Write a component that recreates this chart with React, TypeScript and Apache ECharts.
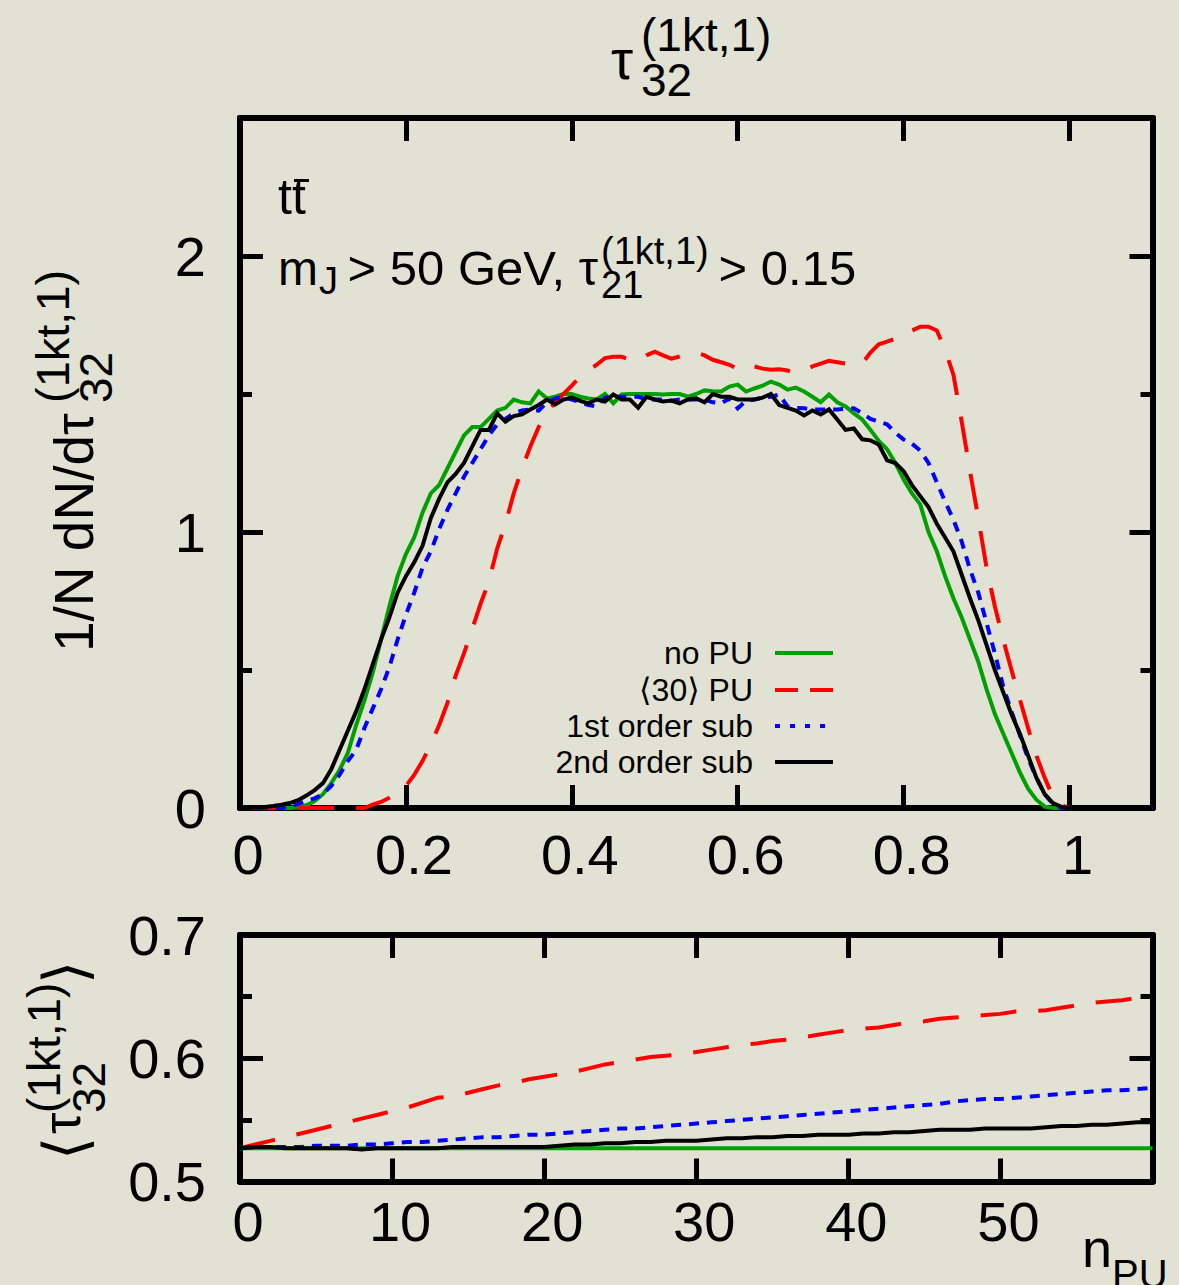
import React, { useEffect, useRef } from "react";
import * as echarts from "echarts";

// ---------- data: top panel (1/N dN/dtau32) ----------
const tauValues = [
  0, 0.01, 0.02, 0.03, 0.04, 0.05, 0.06, 0.07, 0.08, 0.09,
  0.1, 0.11, 0.12, 0.13, 0.14, 0.15, 0.16, 0.17, 0.18, 0.19,
  0.2, 0.21, 0.22, 0.23, 0.24, 0.25, 0.26, 0.27, 0.28, 0.29,
  0.3, 0.31, 0.32, 0.33, 0.34, 0.35, 0.36, 0.37, 0.38, 0.39,
  0.4, 0.41, 0.42, 0.43, 0.44, 0.45, 0.46, 0.47, 0.48, 0.49,
  0.5, 0.51, 0.52, 0.53, 0.54, 0.55, 0.56, 0.57, 0.58, 0.59,
  0.6, 0.61, 0.62, 0.63, 0.64, 0.65, 0.66, 0.67, 0.68, 0.69,
  0.7, 0.71, 0.72, 0.73, 0.74, 0.75, 0.76, 0.77, 0.78, 0.79,
  0.8, 0.81, 0.82, 0.83, 0.84, 0.85, 0.86, 0.87, 0.88, 0.89,
  0.9, 0.91, 0.92, 0.93, 0.94, 0.95, 0.96, 0.97, 0.98, 0.99,
  1.0, 1.01, 1.02, 1.03, 1.04, 1.05, 1.06, 1.07, 1.08, 1.09,
  1.1,
];

const noPU = [
  0, 0, 0, 0, 0, 0, 0, 0.003, 0.01, 0.025,
  0.05, 0.09, 0.137, 0.2, 0.3, 0.39, 0.49, 0.61, 0.73, 0.84,
  0.92, 0.98, 1.07, 1.14, 1.17, 1.23, 1.29, 1.35, 1.38, 1.38,
  1.41, 1.44, 1.45, 1.48, 1.47, 1.466, 1.509, 1.484, 1.49, 1.5,
  1.5, 1.49, 1.484, 1.48, 1.5, 1.466, 1.498, 1.5, 1.5, 1.5,
  1.5, 1.498, 1.5, 1.5, 1.49, 1.5, 1.513, 1.51, 1.509, 1.527,
  1.534, 1.509, 1.52, 1.53, 1.545, 1.534, 1.516, 1.523, 1.509, 1.49,
  1.47, 1.498, 1.47, 1.455, 1.43, 1.408, 1.37, 1.33, 1.3, 1.25,
  1.19, 1.14, 1.1, 1.0, 0.93, 0.84, 0.76, 0.69, 0.61, 0.53,
  0.43, 0.34, 0.27, 0.2, 0.13, 0.07, 0.03, 0.005, 0, 0,
  0, 0, 0, 0, 0, 0, 0, 0, 0, 0,
  0,
];

const pu30 = [
  0, 0, 0, 0, 0, 0, 0, 0, 0, 0,
  0, 0, 0, 0, 0, 0, 0.012, 0.022, 0.037, 0.055,
  0.08, 0.12, 0.17, 0.23, 0.3, 0.38, 0.48, 0.56, 0.65, 0.74,
  0.82, 0.94, 1.03, 1.14, 1.23, 1.31, 1.38, 1.43, 1.47, 1.5,
  1.53, 1.563, 1.585, 1.606, 1.63, 1.635, 1.635, 1.625, 1.62, 1.64,
  1.653, 1.64, 1.628, 1.636, 1.645, 1.65, 1.64, 1.624, 1.615, 1.606,
  1.59, 1.606, 1.6, 1.592, 1.588, 1.59, 1.585, 1.575, 1.585, 1.6,
  1.61, 1.62, 1.615, 1.61, 1.606, 1.61, 1.65, 1.68, 1.69, 1.7,
  1.726, 1.73, 1.744, 1.744, 1.73, 1.66, 1.57, 1.4, 1.22, 1.05,
  0.87, 0.73, 0.61, 0.5, 0.395, 0.29, 0.19, 0.11, 0.04, 0.01,
  0, 0, 0, 0, 0, 0, 0, 0, 0, 0,
  0,
];

const sub1 = [
  0, 0, 0, 0, 0, 0, 0.005, 0.015, 0.025, 0.035,
  0.05, 0.08, 0.12, 0.17, 0.21, 0.29, 0.36, 0.43, 0.51, 0.61,
  0.7, 0.78, 0.87, 0.93, 1.01, 1.08, 1.14, 1.2, 1.25, 1.3,
  1.35, 1.39, 1.41, 1.43, 1.44, 1.444, 1.44, 1.47, 1.484, 1.49,
  1.48, 1.47, 1.46, 1.455, 1.487, 1.49, 1.49, 1.49, 1.49, 1.48,
  1.48, 1.48, 1.476, 1.48, 1.48, 1.48, 1.48, 1.47, 1.466, 1.484,
  1.448, 1.476, 1.48, 1.487, 1.49, 1.498, 1.455, 1.45, 1.448, 1.444,
  1.444, 1.444, 1.444, 1.446, 1.448, 1.43, 1.41, 1.4, 1.39, 1.36,
  1.335, 1.32, 1.295, 1.25, 1.18, 1.11, 1.045, 0.965, 0.865, 0.78,
  0.67, 0.56, 0.44, 0.35, 0.265, 0.18, 0.11, 0.05, 0.015, 0,
  0, 0, 0, 0, 0, 0, 0, 0, 0, 0,
  0,
];

const sub2 = [
  0, 0, 0.002, 0.004, 0.007, 0.012, 0.018, 0.028, 0.045, 0.065,
  0.09, 0.14, 0.21, 0.28, 0.35, 0.43, 0.52, 0.61, 0.69, 0.78,
  0.84, 0.89, 0.95, 1.05, 1.12, 1.18, 1.21, 1.25, 1.31, 1.37,
  1.37, 1.43, 1.4, 1.42, 1.426, 1.444, 1.46, 1.48, 1.462, 1.48,
  1.487, 1.475, 1.466, 1.48, 1.473, 1.498, 1.48, 1.48, 1.45, 1.49,
  1.48, 1.473, 1.476, 1.466, 1.48, 1.484, 1.47, 1.5, 1.49, 1.49,
  1.48, 1.48, 1.48, 1.487, 1.5, 1.46, 1.45, 1.44, 1.422, 1.44,
  1.426, 1.444, 1.408, 1.37, 1.375, 1.336, 1.332, 1.317, 1.26, 1.25,
  1.22, 1.17, 1.13, 1.09, 1.03, 0.98, 0.93, 0.845, 0.76, 0.68,
  0.59, 0.5, 0.42, 0.34, 0.27, 0.19, 0.11, 0.05, 0.018, 0.004,
  0, 0, 0, 0, 0, 0, 0, 0, 0, 0,
  0,
];

// ---------- data: bottom panel (<tau32> vs n_PU) ----------
const nPU = [
  0, 1, 2, 3, 4, 5, 6, 7, 8, 9, 10, 11, 12, 13, 14, 15, 16, 17, 18, 19, 20,
  21, 22, 23, 24, 25, 26, 27, 28, 29, 30, 31, 32, 33, 34, 35, 36, 37, 38, 39, 40,
  41, 42, 43, 44, 45, 46, 47, 48, 49, 50, 51, 52, 53, 54, 55, 56, 57, 58, 59, 60,
];

const meanNoPU = [
  0.527, 0.527, 0.527, 0.527, 0.527, 0.527, 0.527, 0.527, 0.527, 0.527, 0.527,
  0.527, 0.527, 0.527, 0.527, 0.527, 0.527, 0.527, 0.527, 0.527, 0.527,
  0.527, 0.527, 0.527, 0.527, 0.527, 0.527, 0.527, 0.527, 0.527, 0.527,
  0.527, 0.527, 0.527, 0.527, 0.527, 0.527, 0.527, 0.527, 0.527, 0.527,
  0.527, 0.527, 0.527, 0.527, 0.527, 0.527, 0.527, 0.527, 0.527, 0.527,
  0.527, 0.527, 0.527, 0.527, 0.527, 0.527, 0.527, 0.527, 0.527, 0.527,
];

const meanPU = [
  0.527, 0.53, 0.533, 0.536, 0.539, 0.542, 0.545, 0.548, 0.551, 0.554, 0.557,
  0.56, 0.564, 0.568, 0.569, 0.572, 0.575, 0.578, 0.58, 0.583, 0.585,
  0.587, 0.589, 0.592, 0.595, 0.597, 0.599, 0.601, 0.602, 0.603, 0.605,
  0.607, 0.609, 0.611, 0.612, 0.614, 0.615, 0.617, 0.619, 0.621, 0.623,
  0.624, 0.625, 0.627, 0.629, 0.63, 0.632, 0.633, 0.634, 0.635, 0.636,
  0.638, 0.638, 0.639, 0.641, 0.643, 0.645, 0.646, 0.647, 0.649, 0.65,
];

const meanSub1 = [
  0.527, 0.528, 0.528, 0.528, 0.528, 0.529, 0.529, 0.529, 0.53, 0.53, 0.531,
  0.532, 0.532, 0.533, 0.534, 0.535, 0.536, 0.536, 0.537, 0.538, 0.538,
  0.539, 0.54, 0.541, 0.542, 0.543, 0.543, 0.544, 0.545, 0.546, 0.547,
  0.548, 0.549, 0.55, 0.551, 0.552, 0.553, 0.554, 0.555, 0.556, 0.557,
  0.558, 0.559, 0.56, 0.561, 0.562, 0.563, 0.565, 0.566, 0.567, 0.567,
  0.568, 0.569, 0.57, 0.571, 0.572, 0.573, 0.574, 0.574, 0.575, 0.576,
];

const meanSub2 = [
  0.527, 0.528, 0.528, 0.527, 0.527, 0.527, 0.527, 0.527, 0.526, 0.527, 0.527,
  0.527, 0.527, 0.527, 0.528, 0.528, 0.528, 0.528, 0.528, 0.528, 0.528,
  0.529, 0.53, 0.53, 0.531, 0.531, 0.532, 0.532, 0.533, 0.533, 0.533,
  0.534, 0.535, 0.535, 0.536, 0.536, 0.537, 0.537, 0.538, 0.538, 0.538,
  0.539, 0.539, 0.54, 0.54, 0.541, 0.542, 0.542, 0.542, 0.543, 0.543,
  0.543, 0.543, 0.544, 0.545, 0.545, 0.546, 0.546, 0.547, 0.548, 0.548,
];

const legendLabels = ["no PU", "\u27E830\u27E9 PU", "1st order sub", "2nd order sub"];

// ---------- styling ----------
const BG = "#e2e2d4";
const FONT = '"Liberation Sans", Arial, Helvetica, sans-serif';
const FONT_SYM = '"Liberation Sans", "DejaVu Sans", sans-serif';
const GREEN = "#00a000";
const RED = "#ff0000";
const BLUE = "#0000ff";
const BLACK = "#000000";
const LW = 4;
const RED_DASH = [36, 22];
const BLUE_DASH = [10, 8];

function pairs(xs: number[], ys: number[]) {
  return xs.map((x, i) => [x, ys[i]]);
}

function mkX(gridIndex: number, pos: "bottom" | "top", min: number, max: number, interval: number, labels: boolean, margin: number) {
  return {
    type: "value",
    gridIndex,
    position: pos,
    min,
    max,
    interval,
    axisLine: { show: true, onZero: false, lineStyle: { color: BLACK, width: 6 } },
    axisTick: { show: true, inside: true, length: 23, lineStyle: { color: BLACK, width: 5 } },
    axisLabel: {
      show: labels,
      color: BLACK,
      fontSize: 56,
      fontFamily: FONT,
      margin,
      padding: [0, 0, 0, 16],
      showMaxLabel: false,
      showMinLabel: true,
    },
    splitLine: { show: false },
  };
}

function mkY(gridIndex: number, pos: "left" | "right", min: number, max: number, interval: number, tickLen: number, labels: boolean, showMax: boolean) {
  return {
    type: "value",
    gridIndex,
    position: pos,
    min,
    max,
    interval,
    axisLine: { show: true, onZero: false, lineStyle: { color: BLACK, width: 6 } },
    axisTick: { show: true, inside: true, length: tickLen, lineStyle: { color: BLACK, width: 5 } },
    axisLabel: {
      show: labels,
      color: BLACK,
      fontSize: 56,
      fontFamily: FONT,
      margin: 34,
      showMaxLabel: showMax,
    },
    splitLine: { show: false },
  };
}

function txt(text: string, x: number, y: number, fontSize: number, extra: any = {}) {
  return {
    type: "text",
    x,
    y,
    silent: true,
    rotation: extra.rotation || 0,
    style: {
      text,
      fontSize,
      fontFamily: extra.fontFamily || FONT,
      fill: BLACK,
      align: extra.align || "left",
      verticalAlign: "middle",
    },
  };
}

export default function App() {
  const ref = useRef<HTMLDivElement>(null);

  useEffect(() => {
    if (!ref.current) return;
    const chart = echarts.init(ref.current, undefined, { renderer: "svg" });

    const R = Math.PI / 2;
    const legendY = [653, 690, 726, 762];
    const legendStyles = [
      { stroke: GREEN, lineWidth: LW },
      { stroke: RED, lineWidth: LW, lineDash: [23, 12] },
      { stroke: BLUE, lineWidth: LW, lineDash: [5, 10] },
      { stroke: BLACK, lineWidth: LW },
    ];

    const graphic: any[] = [
      // title tau_32^(1kt,1)
      txt("\u03C4", 611, 59, 56),
      txt("32", 641, 80, 46),
      txt("(1kt,1)", 641, 35, 46),
      // t tbar
      txt("t", 278, 197, 50),
      txt("t", 292, 197, 50),
      // cut text
      txt("m", 278, 268, 48),
      txt("J", 319, 281, 38),
      txt(" > 50 GeV, \u03C4", 334, 268, 49),
      txt("21", 601, 285, 38),
      txt("(1kt,1)", 601, 251, 38),
      txt(" > 0.15", 705, 268, 49),
      // y axis title, top panel
      txt("1/N dN/d\u03C4", 74, 652, 55, { rotation: R }),
      txt("32", 96, 403, 46, { rotation: R }),
      txt("(1kt,1)", 52, 403, 47, { rotation: R }),
      // y axis title, bottom panel
      txt("\u27E8", 65, 1160, 60, { rotation: R, fontFamily: FONT_SYM }),
      txt("\u03C4", 61, 1134, 54, { rotation: R }),
      txt("32", 89, 1113, 46, { rotation: R }),
      txt("(1kt,1)", 44, 1113, 46, { rotation: R }),
      txt("\u27E9", 65, 984, 60, { rotation: R, fontFamily: FONT_SYM }),
      // n_PU
      txt("n", 1082, 1248, 54),
      txt("PU", 1112, 1274, 40),
    ];
    // overline of tbar
    graphic.push({
      type: "rect",
      silent: true,
      shape: { x: 294, y: 179, width: 15, height: 3 },
      style: { fill: BLACK },
    });
    legendLabels.forEach((lab, i) => {
      graphic.push(txt(lab, 753, legendY[i], 32, { align: "right", fontFamily: FONT_SYM }));
      graphic.push({
        type: "line",
        silent: true,
        shape: { x1: 775, y1: legendY[i], x2: 833, y2: legendY[i] },
        style: legendStyles[i],
      });
    });

    const lineSeries = (name: string, data: any[], color: string, dash: any, xi: number, yi: number, z: number) => ({
      name,
      type: "line",
      xAxisIndex: xi,
      yAxisIndex: yi,
      data,
      showSymbol: false,
      symbol: "none",
      clip: true,
      z,
      lineStyle: { color, width: LW, type: dash, cap: "butt", join: "miter" },
      emphasis: { disabled: true },
    });

    const option: any = {
      animation: false,
      backgroundColor: BG,
      grid: [
        { left: 240, top: 118, width: 912.5, height: 690, containLabel: false },
        { left: 240, top: 935, width: 912.5, height: 246.5, containLabel: false },
      ],
      xAxis: [
        mkX(0, "bottom", 0, 1.1, 0.2, true, 18),
        mkX(0, "top", 0, 1.1, 0.2, false, 18),
        mkX(1, "bottom", 0, 60, 10, true, 12),
        mkX(1, "top", 0, 60, 10, false, 12),
      ],
      yAxis: [
        mkY(0, "left", 0, 2.5, 1, 23, true, false),
        mkY(0, "left", 0, 2.5, 0.5, 12, false, false),
        mkY(0, "right", 0, 2.5, 1, 23, false, false),
        mkY(0, "right", 0, 2.5, 0.5, 12, false, false),
        mkY(1, "left", 0.5, 0.7, 0.1, 23, true, true),
        mkY(1, "left", 0.5, 0.7, 0.05, 12, false, false),
        mkY(1, "right", 0.5, 0.7, 0.1, 23, false, false),
        mkY(1, "right", 0.5, 0.7, 0.05, 12, false, false),
      ],
      series: [
        lineSeries("no PU", pairs(tauValues, noPU), GREEN, "solid", 0, 0, 2),
        lineSeries("<30> PU", pairs(tauValues, pu30), RED, RED_DASH, 0, 0, 3),
        lineSeries("1st order sub", pairs(tauValues, sub1), BLUE, BLUE_DASH, 0, 0, 4),
        lineSeries("2nd order sub", pairs(tauValues, sub2), BLACK, "solid", 0, 0, 5),
        lineSeries("no PU ", pairs(nPU, meanNoPU), GREEN, "solid", 2, 4, 2),
        lineSeries("<30> PU ", pairs(nPU, meanPU), RED, RED_DASH, 2, 4, 3),
        lineSeries("1st order sub ", pairs(nPU, meanSub1), BLUE, BLUE_DASH, 2, 4, 4),
        lineSeries("2nd order sub ", pairs(nPU, meanSub2), BLACK, "solid", 2, 4, 5),
      ],
      graphic,
    };

    chart.setOption(option);
    return () => chart.dispose();
  }, []);

  return (
    <div
      ref={ref}
      style={{ position: "absolute", left: 0, top: 0, width: 1179, height: 1285, background: BG }}
    />
  );
}
